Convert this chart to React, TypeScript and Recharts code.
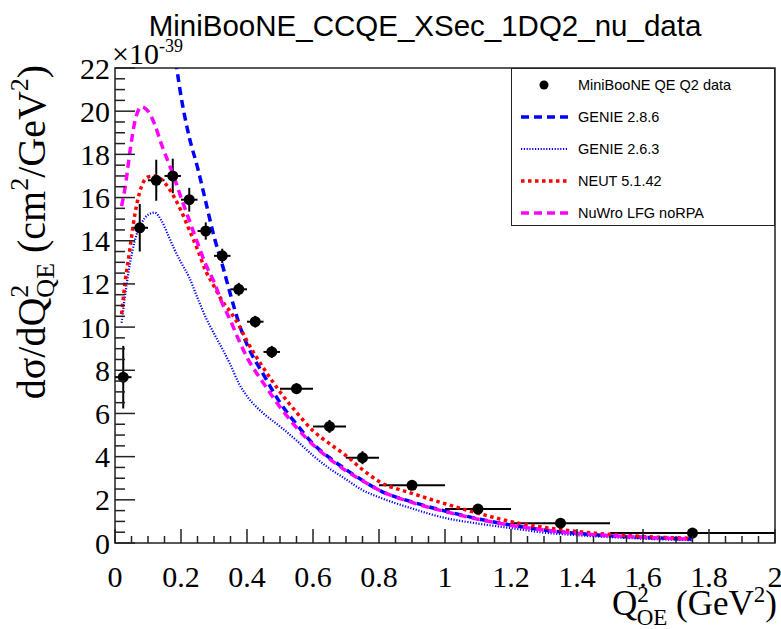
import React from 'react';
import {
  ComposedChart,
  Line,
  Scatter,
  XAxis,
  YAxis,
  ErrorBar,
  ReferenceArea,
  Legend,
  Customized,
} from 'recharts';

// ---- MiniBooNE data (units of 1e-39 cm^2/GeV^2) ----
const dataQ2 = [0.025, 0.075, 0.125, 0.175, 0.225, 0.275, 0.325, 0.375, 0.425, 0.475, 0.55, 0.65, 0.75, 0.9, 1.1, 1.35, 1.75];
const dataHalfBin = [0.025, 0.025, 0.025, 0.025, 0.025, 0.025, 0.025, 0.025, 0.025, 0.025, 0.05, 0.05, 0.05, 0.1, 0.1, 0.15, 0.25];
const dataXsec = [7.68, 14.6, 16.8, 17.0, 15.9, 14.45, 13.3, 11.75, 10.25, 8.85, 7.15, 5.4, 3.95, 2.67, 1.57, 0.92, 0.46];
const dataErr = [1.45, 1.1, 0.95, 0.8, 0.55, 0.4, 0.33, 0.3, 0.27, 0.28, 0.25, 0.3, 0.3, 0.2, 0.12, 0.08, 0.06];

// ---- Model predictions ----
const modelQ2 = [0.02, 0.03, 0.045, 0.06, 0.08, 0.1, 0.12, 0.14, 0.16, 0.18, 0.2, 0.225, 0.25, 0.275, 0.3, 0.325, 0.35, 0.375, 0.4, 0.45, 0.5, 0.55, 0.6, 0.65, 0.7, 0.75, 0.8, 0.9, 1.0, 1.1, 1.2, 1.3, 1.4, 1.5, 1.6, 1.75];
const genie286 = [null, null, null, null, null, null, null, null, 25.3, 22.8, 20.7, 18.8, 17.4, 15.8, 14.2, 12.9, 11.5, 10.2, 9.2, 7.8, 6.5, 5.5, 4.6, 3.95, 3.4, 2.9, 2.45, 1.9, 1.48, 1.12, 0.83, 0.6, 0.45, 0.33, 0.26, 0.18];
const genie263 = [10.2, 11.4, 12.9, 14.0, 14.8, 15.2, 15.3, 14.95, 14.3, 13.6, 13.0, 12.3, 11.35, 10.45, 9.7, 9.0, 8.25, 7.4, 6.8, 6.0, 5.4, 4.75, 4.05, 3.45, 2.95, 2.45, 2.12, 1.6, 1.16, 0.9, 0.69, 0.48, 0.36, 0.27, 0.2, 0.13];
const neut5142 = [10.6, 12.0, 13.6, 15.2, 16.5, 16.95, 17.0, 16.85, 16.5, 16.0, 15.4, 14.5, 13.6, 12.6, 11.9, 11.2, 10.7, 10.1, 9.35, 8.1, 7.0, 6.05, 5.2, 4.6, 4.05, 3.4, 2.85, 2.3, 1.82, 1.38, 0.99, 0.72, 0.53, 0.4, 0.3, 0.22];
const nuwroLfg = [15.6, 16.4, 18.1, 19.5, 20.2, 20.0, 19.4, 18.5, 17.7, 16.9, 16.0, 14.95, 13.9, 12.9, 12.1, 11.1, 10.3, 9.4, 8.6, 7.4, 6.3, 5.35, 4.55, 3.9, 3.35, 2.88, 2.45, 1.88, 1.46, 1.1, 0.82, 0.6, 0.45, 0.34, 0.26, 0.18];

// ---- Ticks ----
const xTicks = Array.from({ length: 41 }, (_, i) => +(i * 0.05).toFixed(2));
const yTicks = Array.from({ length: 45 }, (_, i) => i * 0.5);

const SERIF = "'Liberation Serif', 'Times New Roman', serif";
const SANS = "'Liberation Sans', Arial, sans-serif";
const FRAME = '#222';

const pointData = dataQ2.map((q, i) => ({ q2: q, xs: dataXsec[i], ex: dataHalfBin[i], ey: dataErr[i] }));
const curve = (vals: (number | null)[]) =>
  modelQ2.map((q, i) => ({ q2: q, v: vals[i] })).filter((d) => d.v !== null);

const series = [
  { name: 'GENIE 2.8.6', vals: genie286, color: '#0000ff', dash: '8 5', width: 3.5 },
  { name: 'GENIE 2.6.3', vals: genie263, color: '#0000ff', dash: '1.2 1.6', width: 2.2 },
  { name: 'NEUT 5.1.42', vals: neut5142, color: '#ff0000', dash: '3.5 3.5', width: 3.5 },
  { name: 'NuWro LFG noRPA', vals: nuwroLfg, color: '#ff00ff', dash: '8 5', width: 3.5 },
];

const XTick = (props: any) => {
  const { x, y, payload } = props;
  const v = payload.value as number;
  const major = Math.abs(v * 5 - Math.round(v * 5)) < 1e-6;
  return (
    <g>
      <line x1={x} x2={x} y1={y} y2={y - (major ? 14 : 7)} stroke={FRAME} strokeWidth={1.5} />
      {major && (
        <text x={x} y={y + 44} textAnchor="middle" fontFamily={SERIF} fontSize={30} fill="#000">
          {String(+v.toFixed(1))}
        </text>
      )}
    </g>
  );
};

const YTick = (props: any) => {
  const { x, y, payload } = props;
  const v = payload.value as number;
  const major = Math.abs(v / 2 - Math.round(v / 2)) < 1e-6;
  return (
    <g>
      <line x1={x} x2={x + (major ? 20 : 10)} y1={y} y2={y} stroke={FRAME} strokeWidth={1.5} />
      {major && (
        <text x={x - 5} y={y + 10.5} textAnchor="end" fontFamily={SERIF} fontSize={30} fill="#000">
          {String(v)}
        </text>
      )}
    </g>
  );
};

const TextLayer = () => (
  <g>
    <text x={425} y={36} textAnchor="middle" fontFamily={SANS} fontSize={29.5} fill="#000">
      MiniBooNE_CCQE_XSec_1DQ2_nu_data
    </text>
    <text x={112} y={64} fontFamily={SERIF} fontSize={30} fill="#000">
      ×10
      <tspan fontSize={18} dy={-12}>-39</tspan>
    </text>
    <text transform="translate(45,232) rotate(-90)" textAnchor="middle" fontFamily={SERIF} fontSize={40} fill="#000">
      dσ/dQ
      <tspan fontSize={26} dy={-17}>2</tspan>
      <tspan fontSize={26} dx={-13} dy={26}>QE</tspan>
      <tspan dy={-9}>{'\u00a0(cm'}</tspan>
      <tspan fontSize={26} dy={-17}>2</tspan>
      <tspan dy={17}>/GeV</tspan>
      <tspan fontSize={26} dy={-17}>2</tspan>
      <tspan dy={17}>)</tspan>
    </text>
    <text x={777} y={615} textAnchor="end" fontFamily={SERIF} fontSize={35} fill="#000">
      Q
      <tspan fontSize={23} dy={-13}>2</tspan>
      <tspan fontSize={23} dx={-12} dy={23}>OE</tspan>
      <tspan dy={-10}>{'\u00a0(GeV'}</tspan>
      <tspan fontSize={23} dy={-13}>2</tspan>
      <tspan dy={13}>)</tspan>
    </text>
  </g>
);

const LegendBox = () => (
  <div
    style={{
      position: 'relative',
      width: 264,
      height: 158,
      border: `1px solid ${FRAME}`,
      boxSizing: 'border-box',
      background: '#fff',
      fontFamily: SANS,
      fontSize: 14.5,
      color: '#000',
    }}
  >
    {[{ name: 'MiniBooNE QE Q2 data', marker: true } as any, ...series].map((s: any, i: number) => (
      <div key={s.name} style={{ position: 'absolute', left: 0, top: 5 + i * 32, height: 22, width: 262 }}>
        <svg width={60} height={22} style={{ position: 'absolute', left: 6, top: 0 }}>
          {s.marker ? (
            <circle cx={26} cy={11} r={4.5} fill="#000" />
          ) : (
            <line x1={3} x2={50} y1={11} y2={11} stroke={s.color} strokeWidth={s.width} strokeDasharray={s.dash} />
          )}
        </svg>
        <span style={{ position: 'absolute', left: 66, top: 0, lineHeight: '22px', whiteSpace: 'nowrap' }}>{s.name}</span>
      </div>
    ))}
  </div>
);

export default function App() {
  return (
    <div style={{ position: 'absolute', left: 0, top: 0, width: 781, height: 629, background: '#fff' }}>
      <ComposedChart width={781} height={629} margin={{ top: 68, right: 6, bottom: 46, left: 55 }}>
        <XAxis
          dataKey="q2"
          type="number"
          domain={[0, 2]}
          ticks={xTicks}
          interval={0}
          tickSize={0}
          tickMargin={0}
          tickLine={false}
          axisLine={false}
          height={40}
          tick={<XTick />}
          allowDataOverflow
        />
        <YAxis
          type="number"
          domain={[0, 22]}
          ticks={yTicks}
          interval={0}
          tickSize={0}
          tickMargin={0}
          tickLine={false}
          axisLine={false}
          width={60}
          tick={<YTick />}
          allowDataOverflow
        />
        <ReferenceArea x1={0} x2={2} y1={0} y2={22} fill="none" stroke={FRAME} strokeWidth={1.5} ifOverflow="visible" />
        <Scatter
          data={pointData}
          dataKey="xs"
          isAnimationActive={false}
          shape={(p: any) => <circle cx={p.cx} cy={p.cy} r={5.5} fill="#000" />}
        >
          <ErrorBar dataKey="ey" direction="y" width={0} stroke="#000" strokeWidth={2} isAnimationActive={false} />
          <ErrorBar dataKey="ex" direction="x" width={0} stroke="#000" strokeWidth={2} isAnimationActive={false} />
        </Scatter>
        {series.map((s) => (
          <Line
            key={s.name}
            data={curve(s.vals)}
            dataKey="v"
            type="monotone"
            stroke={s.color}
            strokeWidth={s.width}
            strokeDasharray={s.dash}
            dot={false}
            activeDot={false}
            isAnimationActive={false}
          />
        ))}
        <Legend
          layout="horizontal"
          verticalAlign="middle"
          align="center"
          content={() => <LegendBox />}
          wrapperStyle={{ left: 511, top: 68, width: 264, height: 158 }}
        />
        <Customized component={TextLayer} />
      </ComposedChart>
    </div>
  );
}
